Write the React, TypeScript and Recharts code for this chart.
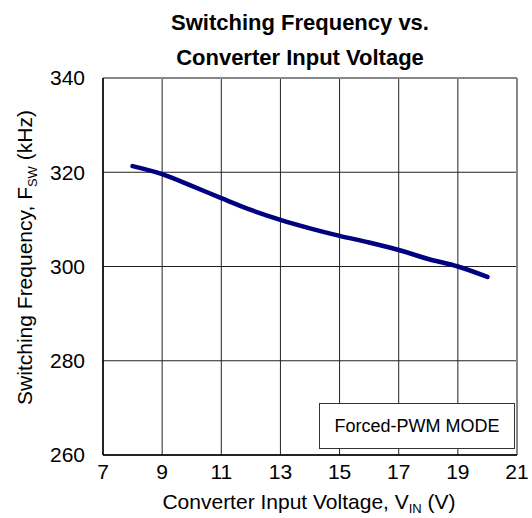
import { LineChart, Line, XAxis, YAxis, CartesianGrid, ReferenceLine } from "recharts"

const vin = [8, 9, 10, 11, 12, 13, 14, 15, 16, 17, 18, 19, 20]
const fsw = [321.3, 319.6, 317.1, 314.5, 312.0, 309.9, 308.1, 306.5, 305.1, 303.5, 301.6, 300.0, 297.8]
const xTicks = [7, 9, 11, 13, 15, 17, 19, 21]
const yTicks = [260, 280, 300, 320, 340]
const titleLines = ["Switching Frequency vs.", "Converter Input Voltage"]

const data = vin.map((v, i) => ({ vin: v, fsw: fsw[i] }))

const FONT = "'Liberation Sans', Arial, sans-serif"

function XLabel({ viewBox }: any) {
  const cx = viewBox.x + viewBox.width / 2
  return (
    <text x={cx - 1} y={509} textAnchor="middle" fontFamily={FONT} fontSize={21} fill="#000">
      Converter Input Voltage, V
      <tspan fontSize={13} dy={4}>IN</tspan>
      <tspan dy={-4}> (V)</tspan>
    </text>
  )
}

function YLabel({ viewBox }: any) {
  const cy = viewBox.y + viewBox.height / 2
  const x = 32
  const y = cy - 9
  return (
    <text
      x={x} y={y} textAnchor="middle" fontFamily={FONT} fontSize={21} fill="#000"
      transform={`rotate(-90, ${x}, ${y})`}
    >
      Switching Frequency, F
      <tspan fontSize={13} dy={5}>SW</tspan>
      <tspan dy={-5}> (kHz)</tspan>
    </text>
  )
}

export default function App() {
  return (
    <div style={{ position: "absolute", left: 0, top: 0, width: 532, height: 518, background: "#fff", fontFamily: FONT }}>
      <LineChart width={532} height={518} data={data} margin={{ top: 78, right: 15, left: 0, bottom: 0 }}>
        <CartesianGrid stroke="#222" strokeWidth={1} />
        <XAxis
          dataKey="vin" type="number" domain={[7, 21]} ticks={xTicks} height={63}
          tick={{ fill: "#000", fontSize: 21, fontFamily: FONT }} tickLine={false}
          axisLine={{ stroke: "#000", strokeWidth: 1.5 }} tickMargin={3}
          label={<XLabel />}
        />
        <YAxis
          type="number" domain={[260, 340]} ticks={yTicks} width={103}
          tick={{ fill: "#000", fontSize: 21, fontFamily: FONT }} tickLine={false}
          axisLine={{ stroke: "#000", strokeWidth: 1.5 }} tickMargin={12}
          label={<YLabel />}
        />
        <ReferenceLine y={340} stroke="#888" strokeWidth={2} />
        <ReferenceLine x={21} stroke="#888" strokeWidth={2} />
        <Line
          dataKey="fsw" type="monotone" stroke="#000080" strokeWidth={4.5}
          dot={false} isAnimationActive={false} strokeLinecap="round"
        />
      </LineChart>
      <svg width={532} height={78} style={{ position: "absolute", left: 0, top: 0, pointerEvents: "none" }}>
        {titleLines.map((t, i) => (
          <text key={t} x={300} y={30 + i * 35} textAnchor="middle" fontFamily={FONT} fontWeight="bold" fontSize={22} fill="#000">
            {t}
          </text>
        ))}
      </svg>
      <div
        style={{
          position: "absolute", left: 319, top: 403, width: 194, height: 44,
          border: "1px solid #333", background: "#fff", fontSize: 18,
          display: "flex", alignItems: "center", justifyContent: "center",
        }}
      >
        Forced-PWM MODE
      </div>
    </div>
  )
}
